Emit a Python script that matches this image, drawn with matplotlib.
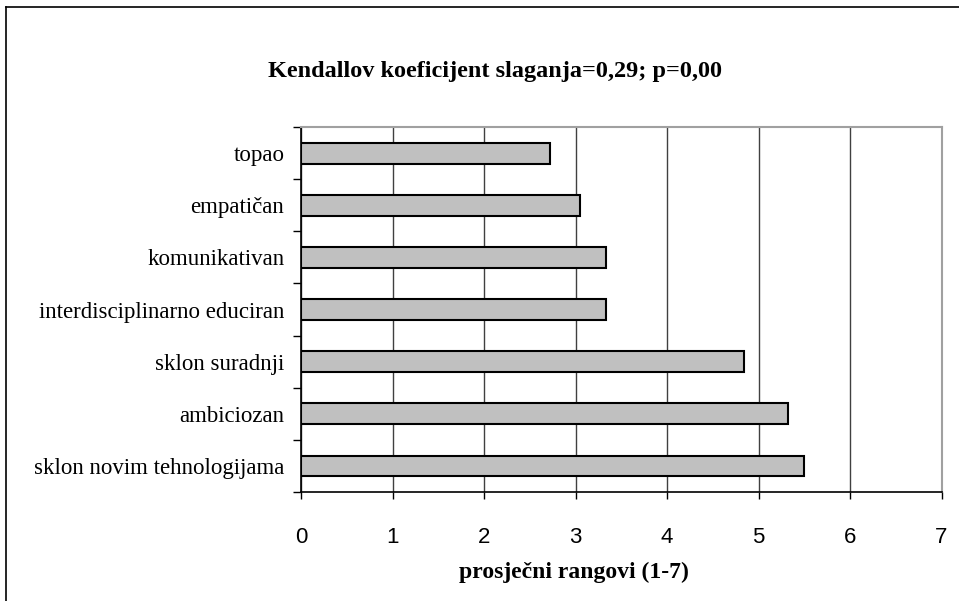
import matplotlib
matplotlib.use("Agg")
import matplotlib.pyplot as plt
import numpy as np
from matplotlib.lines import Line2D

# data
categories = ["topao", "empatičan", "komunikativan", "interdisciplinarno educiran",
              "sklon suradnji", "ambiciozan", "sklon novim tehnologijama"]
values = [2.72, 3.05, 3.33, 3.33, 4.84, 5.32, 5.50]
x_ticks = [0, 1, 2, 3, 4, 5, 6, 7]

title = "Kendallov koeficijent slaganja=0,29; p=0,00"
xlabel = "prosječni rangovi (1-7)"

serif = ["Liberation Serif", "DejaVu Serif"]
sans = ["Liberation Sans", "DejaVu Sans"]

fig = plt.figure(figsize=(9.59, 6.01), dpi=100)
ax = fig.add_axes([301 / 959, 1 - 492 / 601, 640.5 / 959, 365 / 601])

y = np.arange(len(categories))
ax.barh(y, values, height=0.4, color="#c0c0c0", edgecolor="black", linewidth=1.5, zorder=3)

ax.set_xlim(0, 7)
ax.set_ylim(len(categories) - 0.5, -0.5)
ax.set_xticks(x_ticks)
ax.set_xticklabels([str(t) for t in x_ticks], family=sans, fontsize=16)
ax.tick_params(axis="x", direction="out", length=5, width=1, pad=20.5)

# category labels centred on bars, tick marks on the boundaries
ax.set_yticks(y)
ax.set_yticklabels(categories, family=serif, fontsize=16.5)
ax.tick_params(axis="y", which="major", length=0, pad=12)
ax.set_yticks(np.arange(-0.5, len(categories)), minor=True)
ax.tick_params(axis="y", which="minor", direction="out", length=6, width=1)

ax.grid(axis="x", color="#404040", linewidth=1, zorder=0)
for s in ["left", "bottom"]:
    ax.spines[s].set_color("black")
    ax.spines[s].set_linewidth(1.2)
for s in ["top", "right"]:
    ax.spines[s].set_color("#a0a0a0")
    ax.spines[s].set_linewidth(1.5)

fig.text(495 / 959, 1 - 72 / 601, title, ha="center", va="center",
         family=serif, fontweight="bold", fontsize=17.5)
fig.text(574 / 959, 1 - 572 / 601, xlabel, ha="center", va="center",
         family=serif, fontweight="bold", fontsize=17)

# outer chart-area border (top and left visible)
fig.add_artist(Line2D([6 / 959, 1], [1 - 7 / 601, 1 - 7 / 601], color="black", linewidth=1.2))
fig.add_artist(Line2D([6 / 959, 6 / 959], [0, 1 - 7 / 601], color="black", linewidth=1.2))

fig.savefig("out.png", dpi=100)
